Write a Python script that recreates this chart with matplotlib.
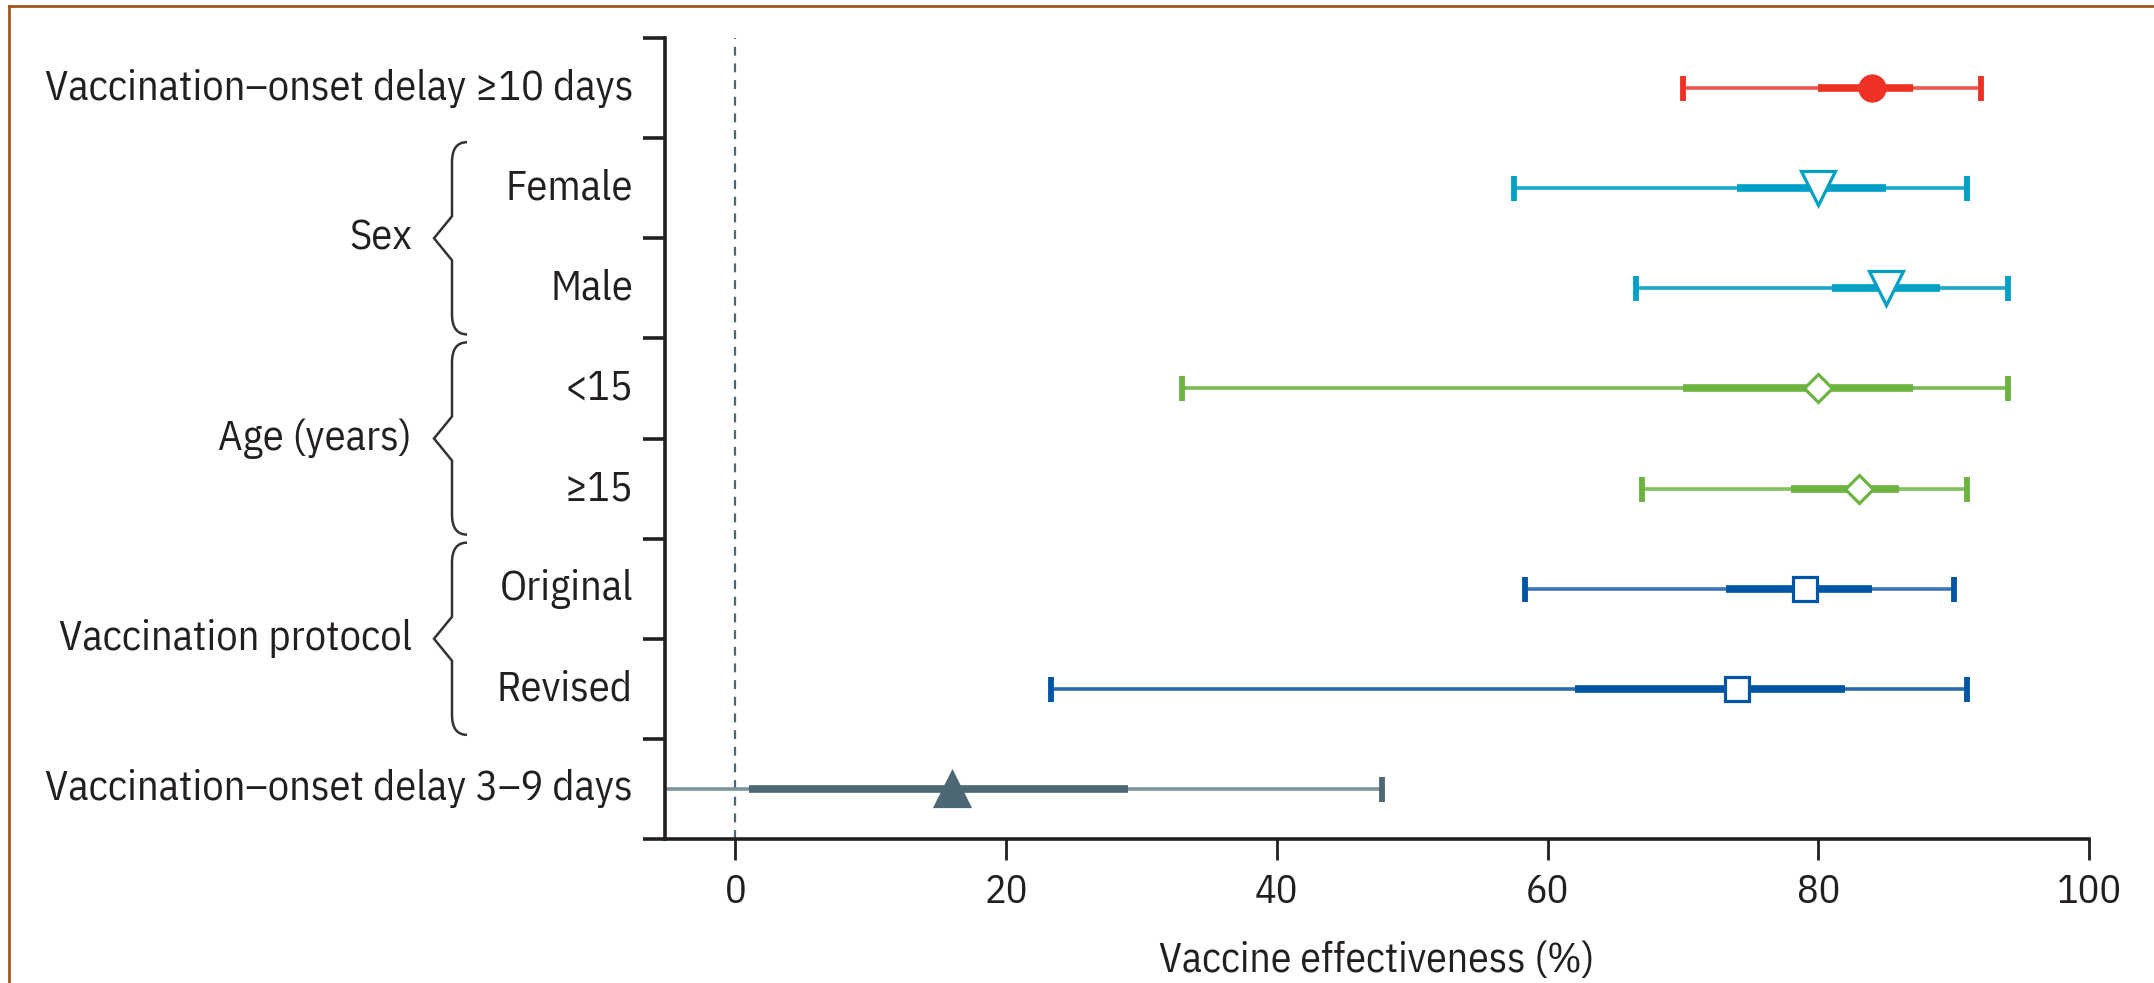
import matplotlib
matplotlib.use("Agg")
import matplotlib.pyplot as plt
from matplotlib.path import Path
from matplotlib.patches import PathPatch
from matplotlib.lines import Line2D
import matplotlib.transforms as mtransforms

# ---------------- data ----------------
row_labels = ["Vaccination\u2013onset delay \u226510 days", "Female", "Male", "<15", "\u226515",
              "Original", "Revised", "Vaccination\u2013onset delay 3\u20139 days"]
point_est = [84, 80, 85, 80, 83, 79, 74, 16]
ci_low = [70, 57.5, 66.5, 33, 67, 58.3, 23.3, -10]
ci_high = [92, 91, 94, 94, 91, 90, 91, 47.8]
inner_low = [80, 74, 81, 70, 78, 73.2, 62, 1]
inner_high = [87, 85, 89, 87, 86, 84, 82, 29]
group_labels = ["Sex", "Age (years)", "Vaccination protocol"]
group_rows = [(1, 2), (3, 4), (5, 6)]
x_ticks = [0, 20, 40, 60, 80, 100]
x_label = "Vaccine effectiveness (%)"

# ---------------- styles ----------------
colors = ["#EE3124", "#00A0C6", "#00A0C6", "#6DB33F", "#6DB33F", "#0055A5", "#0055A5", "#4D6874"]
outer_colors = ["#F0554B", "#1AA8CB", "#1AA8CB", "#78B950", "#84BF62", "#3A76B6", "#2A6BB0", "#7D939C"]
markers = ["o", "v", "v", "D", "D", "s", "s", "^"]
filled = [True, False, False, False, False, False, False, True]
msizes = [18, 25, 25, 14.5, 14.5, 17, 17, 24]

W, H = 2154, 983
FONT = ["IBM Plex Sans Condensed", "PT Sans Narrow", "DejaVu Sans"]
TXT = "#231F20"
LABEL_FS = 30.5
plt.rcParams["font.family"] = FONT

fig = plt.figure(figsize=(W / 100, H / 100), dpi=100)
fig.patch.set_facecolor("white")
ax = fig.add_axes([665 / W, 1 - 839 / H, (2089 - 665) / W, (839 - 38) / H])

n = len(row_labels)
ax.set_ylim(n, 0)
ax.set_xlim(-5.2, 100)

ys = [i + 0.5 for i in range(n)]

# reference line at zero
ax.axvline(0, color="#4D6874", lw=1.6, ls=(0, (4, 3.5)), zorder=1)

for i in range(n):
    y = ys[i]
    ax.hlines(y, ci_low[i], ci_high[i], color=outer_colors[i], lw=2.6, zorder=2)
    ax.plot([ci_low[i], ci_high[i]], [y, y], ls="none", marker="|", ms=18, mew=4.2,
            color=colors[i], zorder=3)
    ax.hlines(y, inner_low[i], inner_high[i], color=colors[i], lw=5.5, zorder=3)
    ax.plot([point_est[i]], [y], ls="none", marker=markers[i], ms=msizes[i],
            mfc=colors[i] if filled[i] else "white", mec=colors[i], mew=2.3, zorder=4)

# spines & ticks
for s in ["top", "right"]:
    ax.spines[s].set_visible(False)
for s in ["left", "bottom"]:
    ax.spines[s].set_linewidth(2.6)
    ax.spines[s].set_color(TXT)
ax.spines["bottom"].set_bounds(-5.2, 100)
ax.set_xticks(x_ticks)
ax.set_xticklabels([str(v) for v in x_ticks])
ax.set_yticks(range(n + 1))
ax.set_yticklabels([])
ax.tick_params(axis="x", length=15, width=2, color=TXT, pad=10, labelsize=29, labelcolor=TXT)
ax.tick_params(axis="y", length=16, width=2.6, color=TXT)
ax.set_xlabel(x_label, fontsize=30, color=TXT)
ax.xaxis.set_label_coords(0.5, (839 - 960) / (839 - 38))
ax.xaxis.label.set_va("center")

# row labels
trans = mtransforms.blended_transform_factory(fig.transFigure, ax.transData)
for i, lab in enumerate(row_labels):
    ax.text(633 / W, ys[i], lab, transform=trans, ha="right", va="center",
            fontsize=LABEL_FS, color=TXT, clip_on=False)

# group labels and braces
for lab, (r0, r1) in zip(group_labels, group_rows):
    top, bot = r0 + 0.04, r1 + 0.96
    mid = (top + bot) / 2
    ax.text(412 / W, mid, lab, transform=trans, ha="right", va="center",
            fontsize=LABEL_FS, color=TXT, clip_on=False)
    xr, xv, xt = 467 / W, 452 / W, 434 / W
    verts = [(xr, top), (xv, top), (xv, top + 0.2),
             (xv, mid - 0.22), (xt, mid), (xv, mid + 0.22),
             (xv, bot - 0.2), (xv, bot), (xr, bot)]
    codes = [Path.MOVETO, Path.CURVE3, Path.CURVE3,
             Path.LINETO, Path.LINETO, Path.LINETO,
             Path.LINETO, Path.CURVE3, Path.CURVE3]
    ax.add_patch(PathPatch(Path(verts, codes), transform=trans, fill=False,
                           lw=1.8, edgecolor="#333333", clip_on=False))

# frame lines (top and left)
fig.add_artist(Line2D([9 / W, 1], [1 - 6 / H, 1 - 6 / H], transform=fig.transFigure,
                      color="#A0561C", lw=2))
fig.add_artist(Line2D([9 / W, 9 / W], [0, 1 - 6 / H], transform=fig.transFigure,
                      color="#A0561C", lw=2))

fig.savefig("out.png", dpi=100, facecolor="white")
